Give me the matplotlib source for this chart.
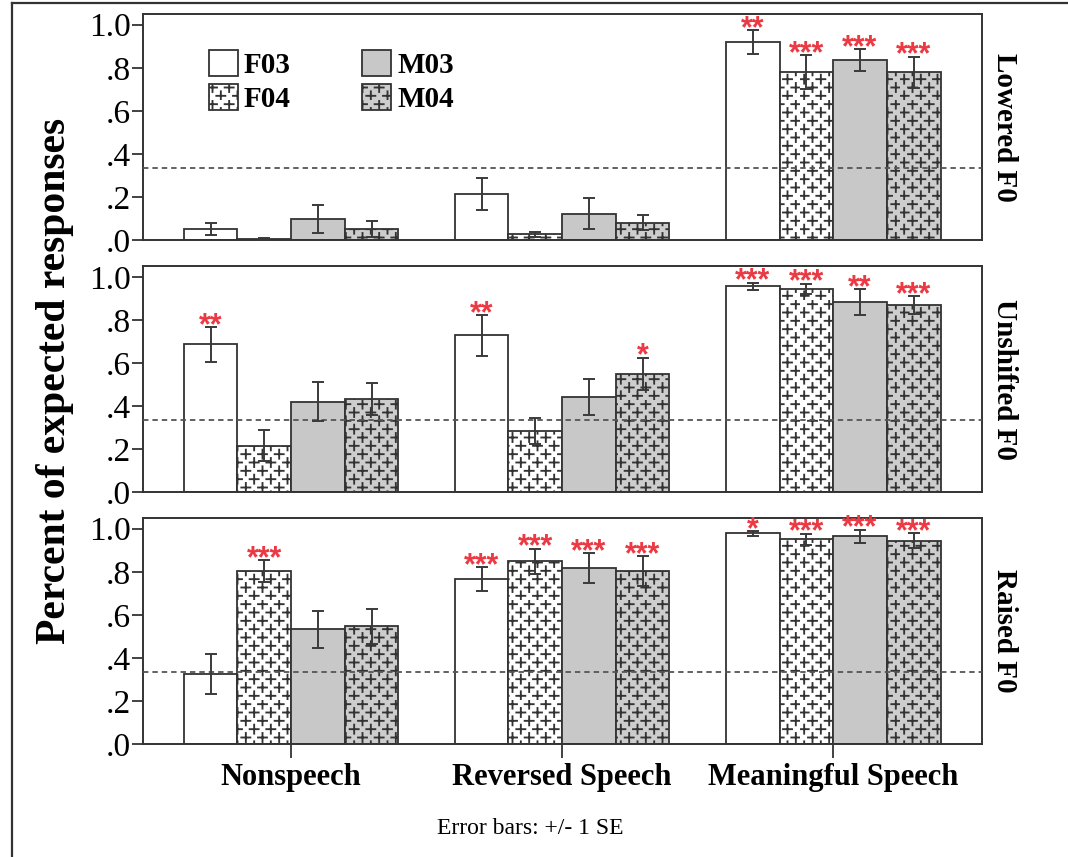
import numpy as np
import matplotlib
matplotlib.use("Agg")
import matplotlib.pyplot as plt
import matplotlib.hatch as mhatch
from matplotlib.patches import Patch
from matplotlib.lines import Line2D
from matplotlib.path import Path

conditions = ["Lowered F0", "Unshifted F0", "Raised F0"]
stimuli = ["Nonspeech", "Reversed Speech", "Meaningful Speech"]
talkers = ["F03", "F04", "M03", "M04"]
ytick_vals = [0.0, 0.2, 0.4, 0.6, 0.8, 1.0]
ytick_labels = [".0", ".2", ".4", ".6", ".8", "1.0"]
chance = 1 / 3

# proportion of expected responses: rows = stimulus type, columns = talker
lowered_mean = [[0.053, 0.005, 0.096, 0.053],
                [0.213, 0.026, 0.122, 0.081],
                [0.920, 0.780, 0.837, 0.780]]
lowered_se = [[0.028, 0.004, 0.065, 0.037],
              [0.075, 0.010, 0.072, 0.035],
              [0.056, 0.080, 0.051, 0.072]]
lowered_sig = [["", "", "", ""],
               ["", "", "", ""],
               ["**", "***", "***", "***"]]

unshifted_mean = [[0.686, 0.215, 0.420, 0.433],
                  [0.728, 0.284, 0.442, 0.548],
                  [0.955, 0.943, 0.882, 0.869]]
unshifted_se = [[0.081, 0.073, 0.090, 0.075],
                [0.095, 0.060, 0.083, 0.076],
                [0.018, 0.025, 0.060, 0.040]]
unshifted_sig = [["**", "", "", ""],
                 ["**", "", "", "*"],
                 ["***", "***", "**", "***"]]

raised_mean = [[0.327, 0.804, 0.532, 0.546],
               [0.765, 0.848, 0.817, 0.804],
               [0.978, 0.950, 0.966, 0.944]]
raised_se = [[0.093, 0.050, 0.088, 0.082],
             [0.055, 0.060, 0.070, 0.070],
             [0.010, 0.027, 0.030, 0.034]]
raised_sig = [["", "***", "", ""],
              ["***", "***", "***", "***"],
              ["*", "***", "***", "***"]]

means = [lowered_mean, unshifted_mean, raised_mean]
ses = [lowered_se, unshifted_se, raised_se]
sigs = [lowered_sig, unshifted_sig, raised_sig]

fills = ["white", "white", "#c8c8c8", "#cdcdcd"]
hatches = [None, "*", None, "*"]
edge = "#333333"
star_red = "#ec3a44"


class PlusHatch(mhatch.HatchPatternBase):
    """Staggered rows of small plus signs, used for the '*' hatch code."""
    cols = 6
    rows = 12
    arm = 0.045

    def __init__(self, hatch, density):
        n = self.cols * self.rows
        self.num_vertices = 4 * n if (hatch and "*" in hatch) else 0

    def set_vertices_and_codes(self, vertices, codes):
        pts = []
        for r in range(self.rows):
            y = (r + 0.5) / self.rows
            shift = 0.25 if r % 2 == 0 else 0.75
            for c in range(self.cols):
                xc = (c + shift) / self.cols
                pts += [(xc - self.arm, y), (xc + self.arm, y),
                        (xc, y - self.arm), (xc, y + self.arm)]
        vertices[:] = pts
        codes[:] = [Path.MOVETO, Path.LINETO] * (2 * self.cols * self.rows)


mhatch._hatch_types = [PlusHatch if t is mhatch.Stars else t
                       for t in mhatch._hatch_types]

plt.rcParams["font.family"] = ["Liberation Serif", "DejaVu Serif"]
plt.rcParams["hatch.linewidth"] = 1.35
plt.rcParams["hatch.color"] = "#1e1e1e"

fig = plt.figure(figsize=(10.68, 8.57), dpi=100)

x = np.arange(len(stimuli))
width = 0.198
panel_bottoms = [0.7200, 0.4259, 0.1319]

for k, cond in enumerate(conditions):
    ax = fig.add_axes([0.1339, panel_bottoms[k], 0.7856, 0.2637])
    mean = np.array(means[k])
    se = np.array(ses[k])
    for j in range(len(talkers)):
        xs = x + (j - 1.5) * width
        ax.bar(xs, mean[:, j], width, color=fills[j], edgecolor=edge,
               linewidth=1.3, hatch=hatches[j], zorder=2)
        ax.errorbar(xs, mean[:, j], yerr=se[:, j], fmt="none",
                    ecolor="#3a3a3a", elinewidth=1.4, capsize=4.2,
                    capthick=1.4, zorder=4)
        for i in range(len(stimuli)):
            s = sigs[k][i][j]
            if s:
                ax.annotate(s, (xs[i], mean[i, j] + se[i, j]),
                            xytext=(0, -5), textcoords="offset points",
                            ha="center", va="baseline", color=star_red,
                            fontsize=22, fontweight="bold",
                            family="Liberation Sans", annotation_clip=False,
                            zorder=5)
    ax.axhline(chance, color="#555555", linestyle=(0, (3, 2.2)),
               linewidth=1.3, zorder=3)

    ax.set_xlim(-0.546, 2.549)
    ax.set_ylim(0, 1.05)
    ax.set_yticks(ytick_vals)
    ax.set_yticklabels(ytick_labels)
    ax.tick_params(axis="y", direction="out", length=8, width=1.3,
                   color="#333333", labelsize=24, pad=1)
    for sp in ax.spines.values():
        sp.set_color("#333333")
        sp.set_linewidth(1.4)

    if k == len(conditions) - 1:
        ax.set_xticks(x)
        ax.set_xticklabels(stimuli, fontsize=22, fontweight="bold")
        ax.tick_params(axis="x", direction="out", length=10, width=1.3,
                       color="#333333", pad=4)
    else:
        ax.set_xticks([])

    ax.text(1.027, 0.5, cond, transform=ax.transAxes, rotation=270,
            ha="center", va="center", fontsize=21, fontweight="bold")

    if k == 0:
        handles = [Patch(facecolor=fills[j], edgecolor=edge, linewidth=1.3,
                         hatch=hatches[j]) for j in range(len(talkers))]
        ax.legend(handles, talkers, ncol=2, frameon=False,
                  loc="upper left", bbox_to_anchor=(0.061, 0.905),
                  prop={"size": 21, "weight": "bold"},
                  handlelength=1.0, handleheight=1.0, handletextpad=0.2,
                  columnspacing=2.45, labelspacing=0.18, borderpad=0)

fig.text(55 / 1068, 1 - 381 / 857, "Percent of expected responses",
         rotation=90, ha="center", va="center", fontsize=30,
         fontweight="bold")
fig.text(530 / 1068, 1 - 828 / 857, "Error bars: +/- 1 SE",
         ha="center", va="center", fontsize=17)

# thin frame along the top and left edge of the figure
fig.add_artist(Line2D([12 / 1068, 12 / 1068], [0, 1 - 3 / 857],
                      transform=fig.transFigure, color="#333333", lw=1.6))
fig.add_artist(Line2D([12 / 1068, 1], [1 - 3 / 857, 1 - 3 / 857],
                      transform=fig.transFigure, color="#333333", lw=1.6))

fig.savefig("out.png", dpi=100)
